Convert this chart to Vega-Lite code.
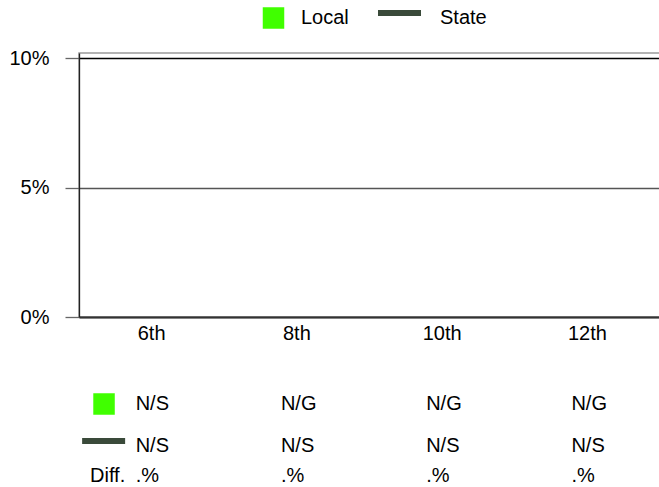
{
  "$schema": "https://vega.github.io/schema/vega-lite/v6.json",
  "background": "white",
  "padding": {"left": 8, "top": 7, "right": 0, "bottom": 0},
  "bounds": "flush",
  "spacing": 24,
  "config": {
    "font": "Liberation Sans",
    "view": {"stroke": null},
    "axis": {"labelFont": "Liberation Sans", "labelFontSize": 20, "labelColor": "#000"},
    "text": {"font": "Liberation Sans", "fontSize": 20, "color": "#000"}
  },
  "datasets": {
    "grades": [
      {"grade": "6th", "local": null, "state": null, "localText": "N/S", "stateText": "N/S", "diffText": ".%"},
      {"grade": "8th", "local": null, "state": null, "localText": "N/G", "stateText": "N/S", "diffText": ".%"},
      {"grade": "10th", "local": null, "state": null, "localText": "N/G", "stateText": "N/S", "diffText": ".%"},
      {"grade": "12th", "local": null, "state": null, "localText": "N/G", "stateText": "N/S", "diffText": ".%"}
    ],
    "rows": [
      {"row": "Local"},
      {"row": "State"},
      {"row": "Diff."}
    ]
  },
  "vconcat": [
    {
      "width": 581,
      "height": 22,
      "data": {"name": "rows"},
      "layer": [
        {
          "transform": [{"filter": "datum.row === 'Local'"}],
          "mark": {"type": "point", "shape": "M-0.5,-0.5H0.5V0.5H-0.5Z", "size": 1849, "filled": true, "color": "#40ff00", "opacity": 1, "strokeWidth": 0},
          "encoding": {"x": {"field": "row", "type": "nominal", "scale": {"type": "point", "domain": ["Local", "State"], "range": [194.5, 320.5], "padding": 0}, "axis": null}}
        },
        {
          "transform": [{"filter": "datum.row === 'State'"}],
          "mark": {"type": "point", "shape": "M-1,-0.14H1V0.14H-1Z", "size": 1849, "filled": true, "color": "#3a4a3a", "opacity": 1, "strokeWidth": 0, "yOffset": -5},
          "encoding": {"x": {"field": "row", "type": "nominal", "axis": null}}
        },
        {
          "transform": [{"filter": "datum.row === 'Local'"}],
          "mark": {"type": "text", "align": "left", "baseline": "middle", "dx": 27.5},
          "encoding": {"x": {"field": "row", "type": "nominal", "axis": null}, "text": {"field": "row"}}
        },
        {
          "transform": [{"filter": "datum.row === 'State'"}],
          "mark": {"type": "text", "align": "left", "baseline": "middle", "dx": 40.5},
          "encoding": {"x": {"field": "row", "type": "nominal", "axis": null}, "text": {"field": "row"}}
        }
      ]
    },
    {
      "width": 581,
      "height": 264,
      "view": {"stroke": "#9a9a9a", "strokeWidth": 1.5},
      "data": {"name": "grades"},
      "encoding": {
        "x": {
          "field": "grade", "type": "ordinal", "sort": null,
          "scale": {"type": "band", "domain": ["6th", "8th", "10th", "12th"], "paddingInner": 0, "paddingOuter": 0},
          "axis": {"title": null, "ticks": false, "labelAngle": 0, "domainColor": "#333", "domainWidth": 2, "labelPadding": 6, "grid": false}
        }
      },
      "layer": [
        {
          "mark": {"type": "bar", "color": "#40ff00"},
          "encoding": {
            "y": {
              "field": "local", "type": "quantitative",
              "scale": {"domain": [0, 0.102], "nice": false, "zero": true},
              "axis": {
                "title": null, "values": [0, 0.05, 0.1], "format": ".0%",
                "grid": true,
                "gridColor": {"condition": {"test": "datum.value >= 0.1", "value": "#000"}, "value": "#555"},
                "gridWidth": 1.3,
                "tickSize": 14, "tickColor": "#666", "tickWidth": 1.3,
                "domainColor": "#222", "domainWidth": 1.3,
                "labelPadding": 16
              }
            }
          }
        },
        {
          "mark": {"type": "line", "color": "#3a4a3a", "strokeWidth": 6},
          "encoding": {"y": {"field": "state", "type": "quantitative"}}
        }
      ]
    },
    {
      "width": 581,
      "height": 135.2,
      "layer": [
        {
          "data": {"name": "rows"},
          "transform": [{"filter": "datum.row === 'Local'"}],
          "mark": {"type": "point", "shape": "M-0.5,-0.5H0.5V0.5H-0.5Z", "size": 1849, "filled": true, "color": "#40ff00", "opacity": 1, "strokeWidth": 0, "xOffset": -47.6},
          "encoding": {
            "x": {"datum": "6th", "type": "ordinal", "scale": {"type": "band", "domain": ["6th", "8th", "10th", "12th"], "paddingInner": 0, "paddingOuter": 0}, "axis": null},
            "y": {"field": "row", "type": "ordinal", "scale": {"type": "point", "domain": ["Local", "State", "Diff."], "padding": 0.8726, "align": 1}, "axis": null}
          }
        },
        {
          "data": {"name": "rows"},
          "transform": [{"filter": "datum.row === 'State'"}],
          "mark": {"type": "point", "shape": "M-1,-0.14H1V0.14H-1Z", "size": 1849, "filled": true, "color": "#3a4a3a", "opacity": 1, "strokeWidth": 0, "xOffset": -48, "yOffset": 1},
          "encoding": {
            "x": {"datum": "6th", "type": "ordinal", "axis": null},
            "y": {"field": "row", "type": "ordinal", "axis": null}
          }
        },
        {
          "data": {"name": "rows"},
          "transform": [{"filter": "datum.row === 'Diff.'"}],
          "mark": {"type": "text", "align": "right", "baseline": "middle", "dx": -26.4},
          "encoding": {
            "x": {"datum": "6th", "type": "ordinal", "axis": null},
            "y": {"field": "row", "type": "ordinal", "axis": null},
            "text": {"field": "row"}
          }
        },
        {
          "data": {"name": "grades"},
          "mark": {"type": "text", "align": "left", "baseline": "middle", "dx": -16},
          "encoding": {
            "x": {"field": "grade", "type": "ordinal", "axis": null},
            "y": {"datum": "Local", "type": "ordinal", "axis": null},
            "text": {"field": "localText"}
          }
        },
        {
          "data": {"name": "grades"},
          "mark": {"type": "text", "align": "left", "baseline": "middle", "dx": -16, "dy": 5.4},
          "encoding": {
            "x": {"field": "grade", "type": "ordinal", "axis": null},
            "y": {"datum": "State", "type": "ordinal", "axis": null},
            "text": {"field": "stateText"}
          }
        },
        {
          "data": {"name": "grades"},
          "mark": {"type": "text", "align": "left", "baseline": "middle", "dx": -16},
          "encoding": {
            "x": {"field": "grade", "type": "ordinal", "axis": null},
            "y": {"datum": "Diff.", "type": "ordinal", "axis": null},
            "text": {"field": "diffText"}
          }
        }
      ]
    }
  ]
}
